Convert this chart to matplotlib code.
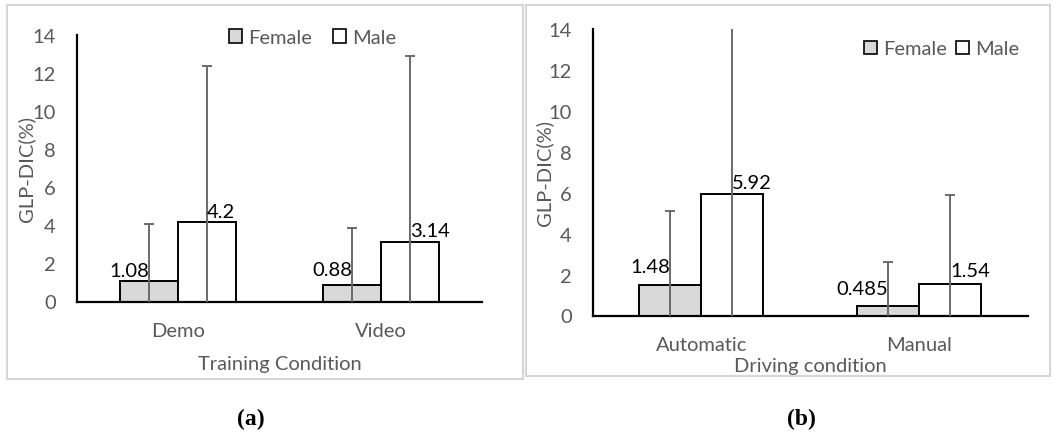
import matplotlib
matplotlib.use("Agg")
import matplotlib.pyplot as plt
from matplotlib.patches import Patch, Rectangle
import numpy as np

# ---------------- data ----------------
cats_a = ["Demo", "Video"]
female_a = [1.08, 0.88]
male_a = [4.2, 3.14]
female_err_a = [3.02, 2.96]
male_err_a = [8.18, 9.76]

cats_b = ["Automatic", "Manual"]
female_b = [1.48, 0.485]
male_b = [5.92, 1.54]
female_err_b = [3.62, 2.115]
male_err_b = [8.6, 4.36]

series_names = ["Female", "Male"]
yticks = [0, 2, 4, 6, 8, 10, 12, 14]

# ---------------- style ----------------
plt.rcParams['font.family'] = ['Lato', 'DejaVu Sans']
FS = 14.5
GRAY_TXT = '#595959'
FEMALE_C = '#d9d9d9'
MALE_C = '#ffffff'
ERR_C = '#6a6a6a'
W = 0.285

W_PX, H_PX = 1054, 435
fig = plt.figure(figsize=(W_PX / 100, H_PX / 100), dpi=100)


def px_rect(x0, y0, x1, y1):
    return [x0 / W_PX, 1 - y1 / H_PX, (x1 - x0) / W_PX, (y1 - y0) / H_PX]


# panel frames
for (x0, y0, x1, y1) in [(7.4, 6, 523, 380), (526, 6, 1049.5, 377)]:
    l, b, w, h = px_rect(x0, y0, x1, y1)
    fig.add_artist(Rectangle((l, b), w, h, transform=fig.transFigure,
                             fill=False, edgecolor='#d6d6d6', linewidth=1.5))


def panel(rect, cats, fem, mal, ferr, merr, xlabel, xlab_y, ylab_x,
          leg_xy, colspace, fdy, mdy):
    ax = fig.add_axes(rect)
    x = np.arange(len(cats))
    ekw = dict(ecolor=ERR_C, elinewidth=1.4, capsize=3.6, capthick=1.4)
    ax.bar(x - W / 2, fem, W, color=FEMALE_C, edgecolor='black',
           linewidth=1.4, label=series_names[0], zorder=2)
    ax.bar(x + W / 2, mal, W, color=MALE_C, edgecolor='black',
           linewidth=1.4, label=series_names[1], zorder=2)
    ax.errorbar(x - W / 2, fem, yerr=ferr, fmt='none', zorder=3, **ekw)
    ax.errorbar(x + W / 2, mal, yerr=merr, fmt='none', zorder=3, **ekw)
    for i in range(len(cats)):
        ax.annotate(f"{fem[i]:g}", (x[i] - W / 2, fem[i]),
                    xytext=(0, fdy[i]), textcoords='offset points',
                    ha='right', va='baseline', fontsize=FS, color='black')
        ax.annotate(f"{mal[i]:g}", (x[i] + W / 2, mal[i]),
                    xytext=(0, mdy[i]), textcoords='offset points',
                    ha='left', va='baseline', fontsize=FS, color='black')
    ax.set_xlim(-0.5, len(cats) - 0.5)
    ax.set_ylim(0, 14)
    ax.set_yticks(yticks)
    ax.set_xticks(x)
    ax.set_xticklabels(cats)
    ax.tick_params(axis='both', length=0, labelsize=FS, labelcolor=GRAY_TXT)
    ax.tick_params(axis='y', pad=15)
    ax.tick_params(axis='x', pad=15)
    for s in ['top', 'right']:
        ax.spines[s].set_visible(False)
    for s in ['left', 'bottom']:
        ax.spines[s].set_linewidth(1.6)
        ax.spines[s].set_color('black')
    ax.set_xlabel(xlabel, fontsize=FS, color=GRAY_TXT)
    ax.xaxis.label.set_va('baseline')
    ax.xaxis.set_label_coords(0.5, xlab_y)
    ax.set_ylabel("GLP-DIC(%)", fontsize=FS, color=GRAY_TXT)
    ax.yaxis.label.set_va('center')
    ax.yaxis.set_label_coords(ylab_x, 0.5)
    handles = [Patch(facecolor=FEMALE_C, edgecolor='black', linewidth=1.2),
               Patch(facecolor=MALE_C, edgecolor='black', linewidth=1.2)]
    leg = ax.legend(handles, series_names, loc='center', bbox_to_anchor=leg_xy,
                    ncol=2, frameon=False, fontsize=FS, handlelength=0.65,
                    handleheight=0.65, handletextpad=0.29,
                    columnspacing=colspace, borderpad=0, borderaxespad=0)
    for t in leg.get_texts():
        t.set_color(GRAY_TXT)
    ax.set_facecolor('none')
    return ax


panel(px_rect(76.6, 36.3, 482.4, 302.5), cats_a, female_a, male_a,
      female_err_a, male_err_a, "Training Condition", -0.2536, -0.1247,
      (0.5818, 0.991), 1.05, [3.5, 7], [3, 4.3])
panel(px_rect(592.5, 29.7, 1027.7, 316.5), cats_b, female_b, male_b,
      female_err_b, male_err_b, "Driving condition", -0.1946, -0.1105,
      (0.8017, 0.9296), 0.45, [9.3, 8], [4.3, 5.8])

fig.text(251 / W_PX, 1 - 419 / H_PX, "(a)", ha='center', va='center',
         fontsize=17, fontweight='bold', family='Liberation Serif')
fig.text(801 / W_PX, 1 - 419 / H_PX, "(b)", ha='center', va='center',
         fontsize=17, fontweight='bold', family='Liberation Serif')

fig.savefig("out.png", dpi=100, facecolor='white')
